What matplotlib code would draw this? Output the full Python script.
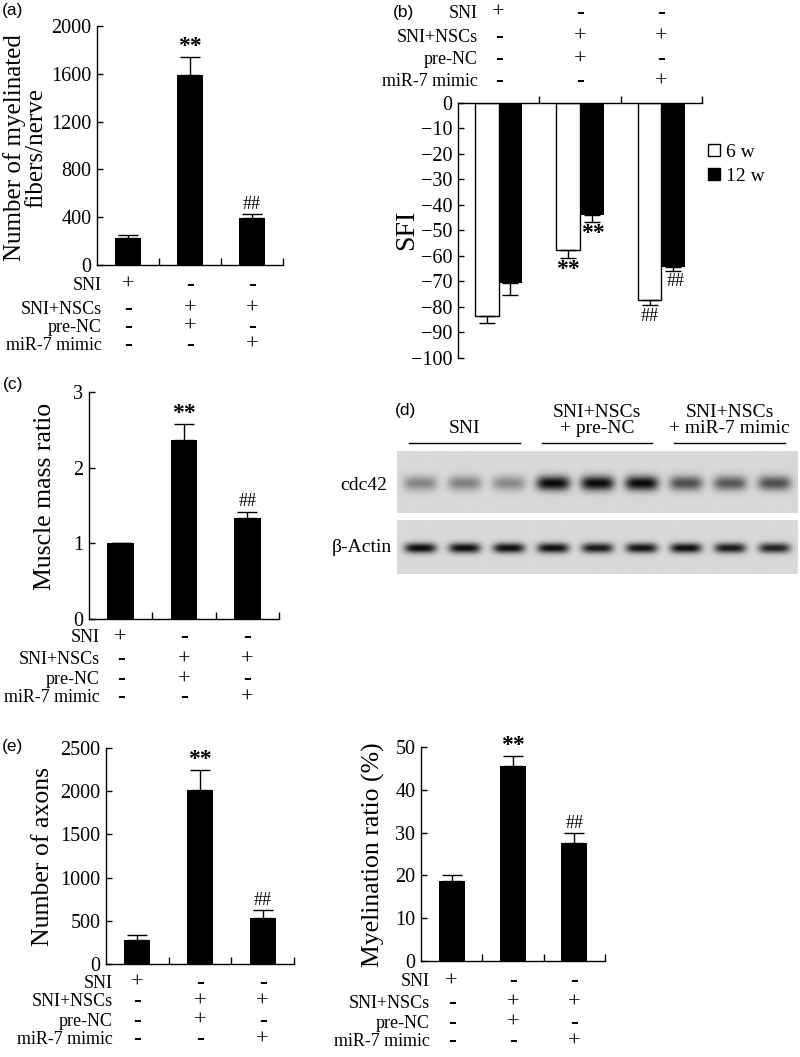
import numpy as np
import matplotlib
matplotlib.use("Agg")
import matplotlib.pyplot as plt
from matplotlib.patches import Patch
from matplotlib.transforms import blended_transform_factory

plt.rcParams['font.family'] = ['Liberation Serif', 'DejaVu Serif']

W, H = 800, 1057

# condition table shared by all bar panels
row_names = ["SNI", "SNI+NSCs", "pre-NC", "miR-7 mimic"]
signs = [["+", "-", "-"],
         ["-", "+", "+"],
         ["-", "+", "-"],
         ["-", "-", "+"]]

# (a) myelinated fibers per nerve
fibers = [222, 1590, 395]
fibers_err = [25, 148, 28]

# (b) SFI at 6 and 12 weeks
sfi_6w = [-83.6, -57.8, -77.2]
sfi_6w_err = [2.5, 3.0, 2.2]
sfi_12w = [-70.5, -43.9, -64.4]
sfi_12w_err = [4.7, 2.8, 1.3]

# (c) muscle mass ratio
muscle = [1.0, 2.37, 1.34]
muscle_err = [0.0, 0.21, 0.08]

# (d) western blot band intensities (0..1), 9 lanes
cdc42_bands = [0.40, 0.42, 0.38, 1.0, 1.0, 1.0, 0.66, 0.62, 0.66]
actin_bands = [1.0, 0.98, 0.98, 0.97, 0.93, 0.95, 0.98, 0.92, 0.88]
blot_groups = ["SNI", "SNI+NSCs\n+ pre-NC", "SNI+NSCs\n+ miR-7 mimic"]

# (e) axons and myelination ratio
axons = [278, 2013, 529]
axons_err = [62, 236, 97]
myelin = [18.6, 45.5, 27.5]
myelin_err = [1.4, 2.3, 2.4]

fig = plt.figure(figsize=(W / 100, H / 100), dpi=100)


def px_axes(x0, y0, x1, y1):
    return fig.add_axes([x0 / W, 1 - y1 / H, (x1 - x0) / W, (y1 - y0) / H])


def fy(y):
    return 1 - y / H


def fx(x):
    return x / W


def style_axes(ax):
    for s in ['top', 'right']:
        ax.spines[s].set_visible(False)
    for s in ['left', 'bottom']:
        ax.spines[s].set_linewidth(1.0)
    ax.tick_params(axis='y', direction='in', length=4, width=1, labelsize=14.5, pad=4)
    ax.tick_params(axis='x', direction='in', length=5, width=1)
    ax.set_xlim(-0.5, 2.5)
    ax.set_xticks([0.5, 1.5, 2.5])
    ax.set_xticklabels([])


def condition_rows(ax, label_right, y_first, gaps=(0, 22, 42, 61)):
    tr = blended_transform_factory(ax.transData, fig.transFigure)
    for r, name in enumerate(row_names):
        y = fy(y_first + gaps[r])
        fig.text(fx(label_right), y, name, ha='right', va='center', fontsize=13)
        for c in range(3):
            s = signs[r][c]
            if s == "+":
                ax.text(c, y, s, transform=tr, ha='center', va='center',
                        fontsize=16, clip_on=False)
            else:
                ax.text(c, y, s, transform=tr, ha='center', va='center',
                        fontsize=17, fontweight='bold', clip_on=False)


def simple_bars(ax, vals, errs, ylim, yticks):
    x = np.arange(3)
    ax.bar(x, vals, width=0.42, color='black')
    ax.errorbar(x, vals, yerr=[np.zeros(3), errs], fmt='none', ecolor='black',
                elinewidth=1, capsize=7, capthick=1)
    style_axes(ax)
    ax.set_ylim(ylim)
    ax.set_yticks(yticks)
    tops = np.array(vals) + np.array(errs)
    ax.annotate("**", (1, tops[1]), xytext=(0, 0), textcoords='offset points',
                ha='center', va='bottom', fontsize=17, fontweight='bold')
    ax.annotate("##", (2, tops[2]), xytext=(0, 1), textcoords='offset points',
                ha='center', va='bottom', fontsize=13)


# ---- (a)
ax_a = px_axes(97, 26, 283, 265)
simple_bars(ax_a, fibers, fibers_err, (0, 2000), [0, 400, 800, 1200, 1600, 2000])
fig.text(fx(25), fy(148), "Number of myelinated\nfibers/nerve", rotation=90,
         ha='center', va='center', fontsize=18, linespacing=0.95)
condition_rows(ax_a, 102, 285, gaps=(0, 24, 42, 60))

# ---- (b)
ax_b = px_axes(458, 103, 702, 358)
xb = np.arange(3)
bw = 0.29
ax_b.bar(xb - bw / 2, sfi_6w, bw, color='white', edgecolor='black', linewidth=1)
ax_b.bar(xb + bw / 2, sfi_12w, bw, color='black')
ax_b.errorbar(xb - bw / 2, sfi_6w, yerr=[sfi_6w_err, np.zeros(3)], fmt='none',
              ecolor='black', elinewidth=1, capsize=6, capthick=1)
ax_b.errorbar(xb + bw / 2, sfi_12w, yerr=[sfi_12w_err, np.zeros(3)], fmt='none',
              ecolor='black', elinewidth=1, capsize=6, capthick=1)
ax_b.spines['bottom'].set_visible(False)
ax_b.spines['right'].set_visible(False)
ax_b.spines['top'].set_linewidth(1.0)
ax_b.spines['left'].set_linewidth(1.0)
ax_b.xaxis.tick_top()
ax_b.set_xlim(-0.5, 2.5)
ax_b.set_xticks([0.5, 1.5, 2.5])
ax_b.set_xticklabels([])
ax_b.tick_params(axis='x', direction='out', length=5, width=1)
ax_b.set_ylim(-100, 0)
ax_b.set_yticks(np.arange(-100, 1, 10))
ax_b.tick_params(axis='y', direction='in', length=4, width=1, labelsize=14.5, pad=4)
low6 = np.array(sfi_6w) - np.array(sfi_6w_err)
low12 = np.array(sfi_12w) - np.array(sfi_12w_err)
ax_b.annotate("**", (1 - bw / 2, low6[1]), xytext=(0, -1), textcoords='offset points',
              ha='center', va='top', fontsize=17, fontweight='bold')
ax_b.annotate("**", (1 + bw / 2, low12[1]), xytext=(1, -1), textcoords='offset points',
              ha='center', va='top', fontsize=17, fontweight='bold')
ax_b.annotate("##", (2 - bw / 2, low6[2]), xytext=(0, -2), textcoords='offset points',
              ha='center', va='top', fontsize=13)
ax_b.annotate("##", (2 + bw / 2, low12[2]), xytext=(2, -2), textcoords='offset points',
              ha='center', va='top', fontsize=13)
fig.text(fx(407), fy(230), "SFI", rotation=90, ha='center', va='center', fontsize=20)
ax_b.legend(handles=[Patch(facecolor='white', edgecolor='black', linewidth=1, label='6 w'),
                     Patch(facecolor='black', edgecolor='black', label='12 w')],
            loc='upper left', bbox_to_anchor=(fx(708), fy(144)),
            bbox_transform=fig.transFigure, frameon=False, fontsize=14,
            handlelength=0.6, handleheight=0.6, handletextpad=0.3,
            labelspacing=0.35, borderaxespad=0, borderpad=0)
condition_rows(ax_b, 478, 13, gaps=(0, 24, 47, 69))

# ---- (c)
ax_c = px_axes(89, 392, 279, 619)
simple_bars(ax_c, muscle, muscle_err, (0, 3), [0, 1, 2, 3])
fig.text(fx(45), fy(496), "Muscle mass ratio", rotation=90, ha='center', va='center',
         fontsize=18.5)
condition_rows(ax_c, 100, 638, gaps=(0, 22, 42, 60))

# ---- (d) western blot
blot_x0, blot_x1 = 397, 797


def blot_strip(ax, bands, band_h, band_w):
    xs = np.linspace(-0.52, 8.52, 400)
    ys = np.linspace(0, 1, 120)
    X, Y = np.meshgrid(xs, ys)
    img = np.zeros_like(X)
    for i, b in enumerate(bands):
        img += b * np.exp(-((X - i) / band_w) ** 4) * np.exp(-((Y - 0.52) / band_h) ** 2)
    img = np.clip(img, 0, 1)
    bg, dark = 0.85, 0.03
    shade = bg - img * (bg - dark)
    ax.imshow(shade, cmap='gray', vmin=0, vmax=1, aspect='auto',
              extent=(-0.52, 8.52, 1, 0), interpolation='bilinear')
    ax.set_xlim(-0.52, 8.52)
    ax.set_ylim(1, 0)
    ax.axis('off')


ax_d1 = px_axes(blot_x0, 451, blot_x1, 513)
blot_strip(ax_d1, cdc42_bands, 0.12, 0.38)
ax_d2 = px_axes(blot_x0, 520, blot_x1, 574)
blot_strip(ax_d2, actin_bands, 0.095, 0.36)

fig.text(fx(387), fy(485), "cdc42", ha='right', va='center', fontsize=14)
fig.text(fx(392), fy(547), "β-Actin", ha='right', va='center', fontsize=14)

tr_d = blended_transform_factory(ax_d1.transData, fig.transFigure)
for g, name in enumerate(blot_groups):
    lanes = np.arange(3) + 3 * g
    ax_d1.plot([lanes[0] - 0.25, lanes[-1] + 0.25], [fy(443), fy(443)], color='black',
               lw=1, transform=tr_d, clip_on=False)
    ax_d1.text(lanes.mean(), fy(437), name, transform=tr_d, ha='center', va='bottom',
               fontsize=14, linespacing=0.95, clip_on=False)

# ---- (e) left
ax_e1 = px_axes(106, 748, 294, 964)
simple_bars(ax_e1, axons, axons_err, (0, 2500), [0, 500, 1000, 1500, 2000, 2500])
fig.text(fx(43), fy(857), "Number of axons", rotation=90, ha='center', va='center',
         fontsize=18.5)
condition_rows(ax_e1, 113, 983, gaps=(0, 19, 38, 57))

# ---- (e) right
ax_e2 = px_axes(421, 747, 605, 961)
simple_bars(ax_e2, myelin, myelin_err, (0, 50), [0, 10, 20, 30, 40, 50])
fig.text(fx(373), fy(855), "Myelination ratio (%)", rotation=90, ha='center',
         va='center', fontsize=18.5)
condition_rows(ax_e2, 430, 982, gaps=(0, 21, 41, 60))

# panel letters
for lab, (px, py) in {"(a)": (2, 11), "(b)": (393, 12), "(c)": (3, 384),
                      "(d)": (395, 411), "(e)": (2, 746)}.items():
    fig.text(fx(px), fy(py), lab, ha='left', va='center', fontsize=12.5,
             family=['Liberation Sans', 'DejaVu Sans'])

fig.savefig("out.png", dpi=100)
